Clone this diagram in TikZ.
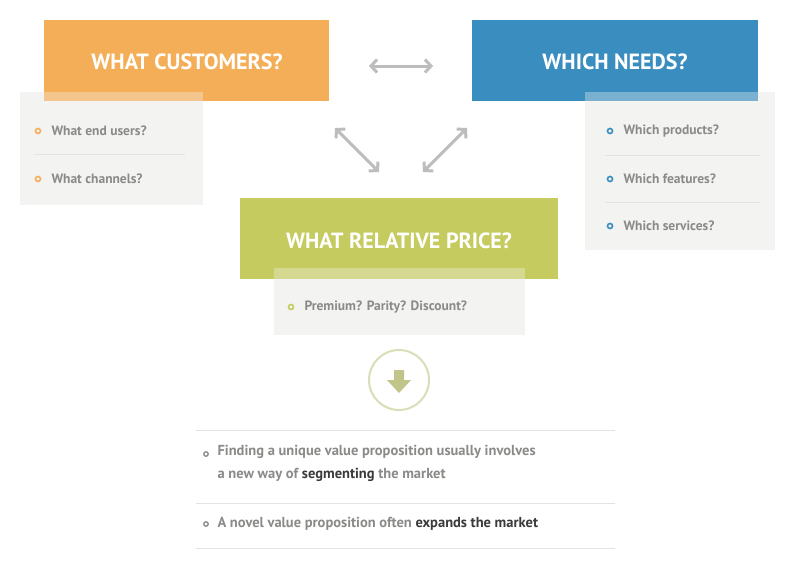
\documentclass[tikz,border=0pt]{standalone}
\usepackage{fontspec}
\setmainfont{PT Sans}
\usetikzlibrary{arrows.meta}
\definecolor{cor}{HTML}{F5AE58}
\definecolor{cbl}{HTML}{3A8DBF}
\definecolor{cgr}{HTML}{C5CB5E}
\definecolor{panel}{HTML}{F3F3F1}
\definecolor{sep}{HTML}{E4E4DE}
\definecolor{txt}{HTML}{8A8A88}
\definecolor{dark}{HTML}{3A3A3A}
\definecolor{arr}{HTML}{BDBDBD}
\tikzset{
 head/.style={text=white,font=\bfseries\fontsize{22}{24}\selectfont,anchor=center},
 item/.style={text=txt,font=\bfseries\fontsize{13.5}{16}\selectfont,anchor=west},
 big/.style={text=txt,font=\bfseries\fontsize{14.5}{23}\selectfont,anchor=west,align=left},
 dot/.style={circle,draw=#1,line width=1.6pt,inner sep=0pt,minimum size=5pt},
 darr/.style={draw=arr,line width=3pt,{Straight Barb[length=6pt,width=13pt]}-{Straight Barb[length=6pt,width=13pt]}},
 sepl/.style={draw=sep,line width=0.8pt}
}
\begin{document}
\begin{tikzpicture}[x=1pt,y=-1pt]
\useasboundingbox[fill=white] (0,0) rectangle (800,560);
% panels
\fill[panel] (20,92) rectangle (203,205);
\fill[panel] (585,92) rectangle (775,250);
\fill[panel] (274,268) rectangle (525,335);
% header boxes
\fill[cor] (44,20) rectangle (329,101);
\fill[cbl] (472,20) rectangle (758,101);
\fill[cgr] (240,198) rectangle (558,279);
\fill[panel,opacity=0.35] (44,92) rectangle (203,101);
\fill[panel,opacity=0.35] (585,92) rectangle (758,101);
\fill[panel,opacity=0.35] (274,268) rectangle (525,279);
\node[head] (hc) at (187,62) {WHAT CUSTOMERS?};
\node[head] (hn) at (615,62) {WHICH NEEDS?};
\node[head] (hp) at (399,241) {WHAT RELATIVE PRICE?};
% left items
\node[dot=cor] (d1) at (38,131) {};
\node[item] (t1) at (48,131) {What end users?};
\draw[sepl] (34,154) -- (185,154);
\node[dot=cor] (d2) at (38,179) {};
\node[item] (t2) at (48,179) {What channels?};
% right items
\node[dot=cbl] (d3) at (610,131) {};
\node[item] (t3) at (620,131) {Which products?};
\draw[sepl] (605,155) -- (760,155);
\node[dot=cbl] (d4) at (610,179) {};
\node[item] (t4) at (620,179) {Which features?};
\draw[sepl] (605,202) -- (760,202);
\node[dot=cbl] (d5) at (610,226) {};
\node[item] (t5) at (620,226) {Which services?};
% green item
\node[dot=cgr] (d6) at (291,307) {};
\node[item] (t6) at (301,307) {Premium? Parity? Discount?};
% arrows
\coordinate (a1) at (369,66); \coordinate (a2) at (433,66);
\draw[darr] (a1) -- (a2);
\coordinate (b1) at (335,128); \coordinate (b2) at (379,172);
\draw[darr] (b1) -- (b2);
\coordinate (c1) at (467,128); \coordinate (c2) at (423,172);
\draw[darr] (c1) -- (c2);
% circle with down arrow
\node[circle,draw=sep!70!cgr,line width=2pt,minimum size=60pt] (circ) at (399,380) {};
\fill[cgr!55!arr] (394,370) -- (404,370) -- (404,380) -- (411,380) -- (399,393) -- (387,380) -- (394,380) -- cycle;
% bottom
\draw[sepl] (196,430) -- (615,430);
\draw[sepl] (196,503) -- (615,503);
\draw[sepl] (196,548) -- (615,548);
\node[dot=txt,minimum size=4.5pt,line width=1.3pt] (d7) at (206,454) {};
\node[big,anchor=north west] (t7) at (214,442) {Finding a unique value proposition usually involves\\a new way of \textcolor{dark}{segmenting} the market};
\node[dot=txt,minimum size=4.5pt,line width=1.3pt] (d8) at (206,524) {};
\node[big] (t8) at (214,524) {A novel value proposition often \textcolor{dark}{expands the market}};
\end{tikzpicture}
\end{document}
